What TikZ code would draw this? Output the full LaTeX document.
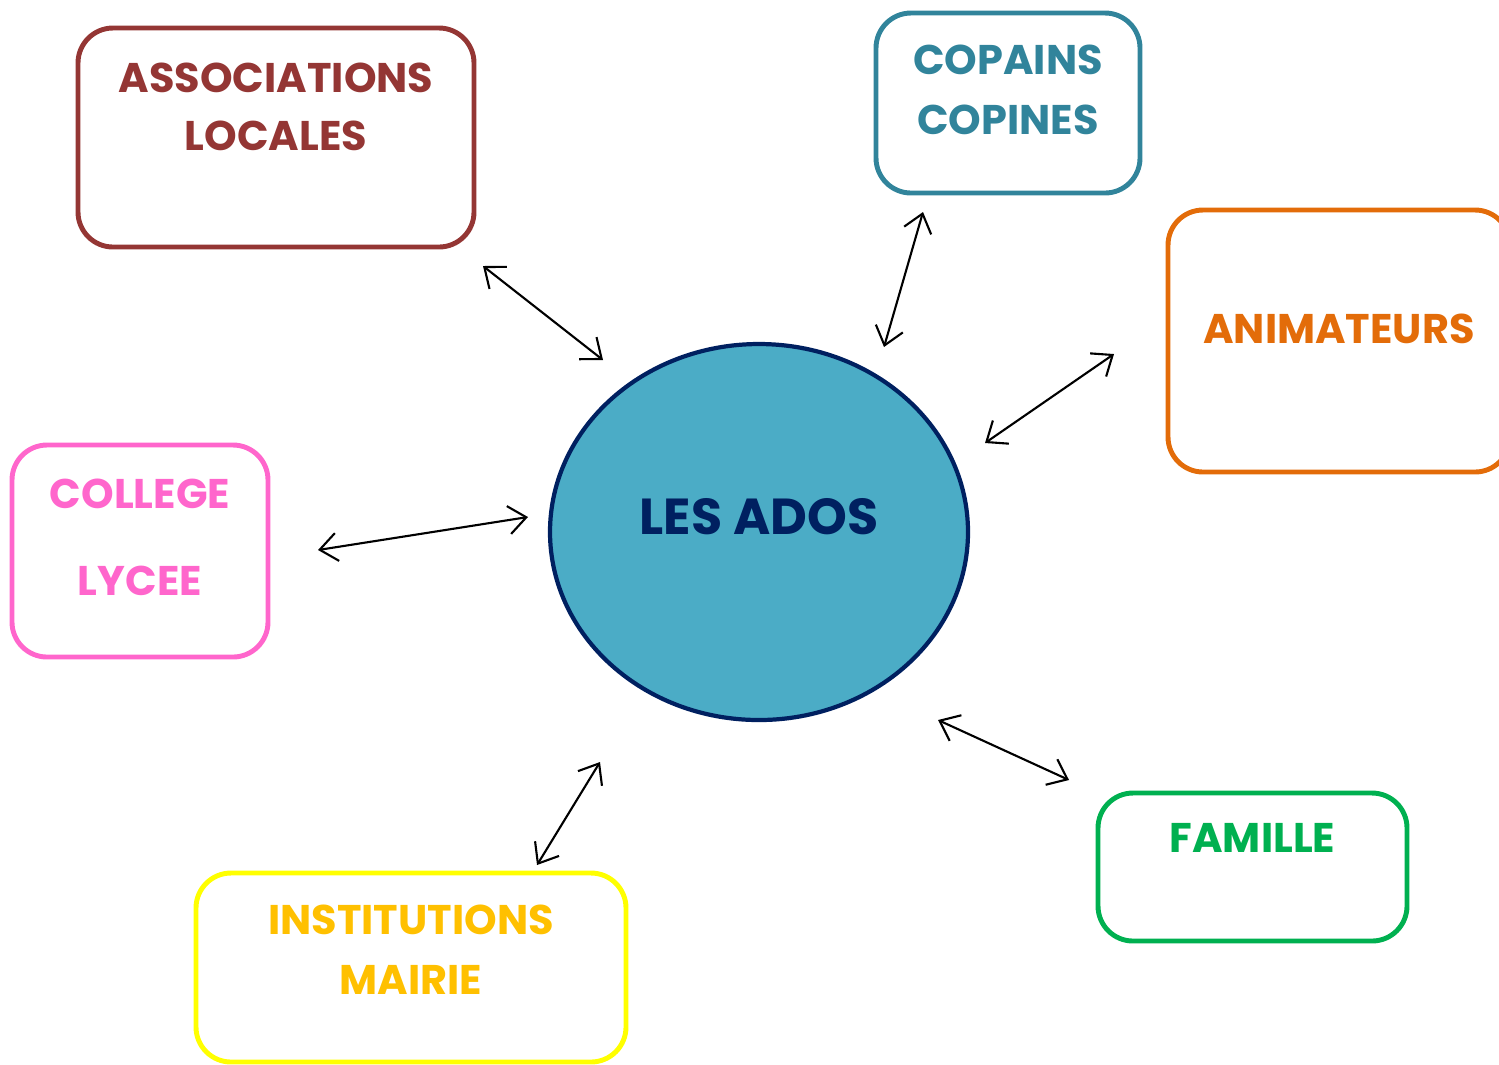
\documentclass[tikz,border=0pt]{standalone}
\usepackage{fontspec}
\setmainfont{Poppins}
\usetikzlibrary{
  arrows.meta,
  shapes.geometric
}
\definecolor{assocred}{HTML}{943634}
\definecolor{copainteal}{HTML}{31849B}
\definecolor{animorange}{HTML}{E36C09}
\definecolor{collegepink}{HTML}{FF66CC}
\definecolor{institline}{HTML}{FFFF00}
\definecolor{instittext}{HTML}{FFC000}
\definecolor{famgreen}{HTML}{00B050}
\definecolor{adosfill}{HTML}{4BACC6}
\definecolor{adosnavy}{HTML}{002060}
\tikzset{
  % Shared values that are assigned to different keys in the styles below.
  globals/box line width/.initial=1.4pt,
  globals/box corner/.initial=3.5mm,
%
  % For the rounded boxes round the ados.
  box/.style={
    draw,
    rectangle,
    line width=\pgfkeysvalueof{/tikz/globals/box line width},
    rounded corners=\pgfkeysvalueof{/tikz/globals/box corner},
    inner sep=0pt},
%
  % For the text in the boxes.
  title/.style={
    font={\fontsize{11.8pt}{16.5pt}\selectfont\bfseries},
    align=center,
    inner sep=0pt,
    anchor=north},
%
  % For the central ellipse.
  ados/.style={
    ellipse,
    draw=adosnavy,
    fill=adosfill,
    line width=1.2pt,
    inner sep=0pt},
%
  % For the double arrows.
  link/.style={
    line width=0.6pt,
    {Straight Barb[length=5pt,width=8pt]}-{Straight Barb[length=5pt,width=8pt]}}
}

\begin{document}
\begin{tikzpicture}
  \useasboundingbox (0,0) rectangle (14.99,-10.64);

  \node[ados,
        minimum width=4.18cm,
        minimum height=3.76cm,
        label={[font={\fontsize{14.4pt}{18pt}\selectfont\bfseries},
                text=adosnavy,
                yshift=0.15cm]center:LES ADOS}] (ados) at (7.59,-5.32) {};

  \node[box, draw=assocred,
        minimum width=3.96cm, minimum height=2.19cm,
        label={[title, text=assocred, yshift=-0.37cm]north:ASSOCIATIONS\\LOCALES}]
        (assoc) at (2.76,-1.375) {};
  \node[box, draw=copainteal,
        minimum width=2.64cm, minimum height=1.80cm,
        label={[title, text=copainteal, yshift=-0.34cm,
                font={\fontsize{11.8pt}{17pt}\selectfont\bfseries}]north:COPAINS\\COPINES}]
        (copains) at (10.08,-1.03) {};
  \node[box, draw=animorange,
        minimum width=3.42cm, minimum height=2.62cm,
        label={[title, text=animorange, yshift=-1.06cm]north:ANIMATEURS}]
        (anim) at (13.39,-3.41) {};
  \node[box, draw=collegepink,
        minimum width=2.56cm, minimum height=2.12cm,
        label={[title, text=collegepink, yshift=-0.36cm,
                font={\fontsize{11.8pt}{24.7pt}\selectfont\bfseries}]north:COLLEGE\\LYCEE}]
        (college) at (1.40,-5.51) {};
  \node[box, draw=institline,
        minimum width=4.30cm, minimum height=1.89cm,
        label={[title, text=instittext, yshift=-0.34cm,
                font={\fontsize{11.8pt}{17pt}\selectfont\bfseries}]north:INSTITUTIONS\\MAIRIE}]
        (instit) at (4.11,-9.675) {};
  \node[box, draw=famgreen,
        minimum width=3.09cm, minimum height=1.48cm,
        label={[title, text=famgreen, yshift=-0.32cm]north:FAMILLE}]
        (famille) at (12.525,-8.67) {};

  % Ends of the arrows, they stop short of the shapes.
  \coordinate (assoc-end)   at (4.83,-2.66);
  \coordinate (ados-assoc)  at (6.03,-3.60);
  \coordinate (copains-end) at (9.23,-2.12);
  \coordinate (ados-copains) at (8.84,-3.47);
  \coordinate (anim-end)    at (11.14,-3.54);
  \coordinate (ados-anim)   at (9.85,-4.43);
  \coordinate (college-end) at (3.18,-5.50);
  \coordinate (ados-college) at (5.28,-5.17);
  \coordinate (famille-end) at (10.69,-7.80);
  \coordinate (ados-famille) at (9.38,-7.20);
  \coordinate (instit-end)  at (5.37,-8.65);
  \coordinate (ados-instit) at (6.00,-7.62);

  \draw[link] (assoc-end) -- (ados-assoc);
  \draw[link] (copains-end) -- (ados-copains);
  \draw[link] (anim-end) -- (ados-anim);
  \draw[link] (college-end) -- (ados-college);
  \draw[link] (famille-end) -- (ados-famille);
  \draw[link] (instit-end) -- (ados-instit);
\end{tikzpicture}
\end{document}
